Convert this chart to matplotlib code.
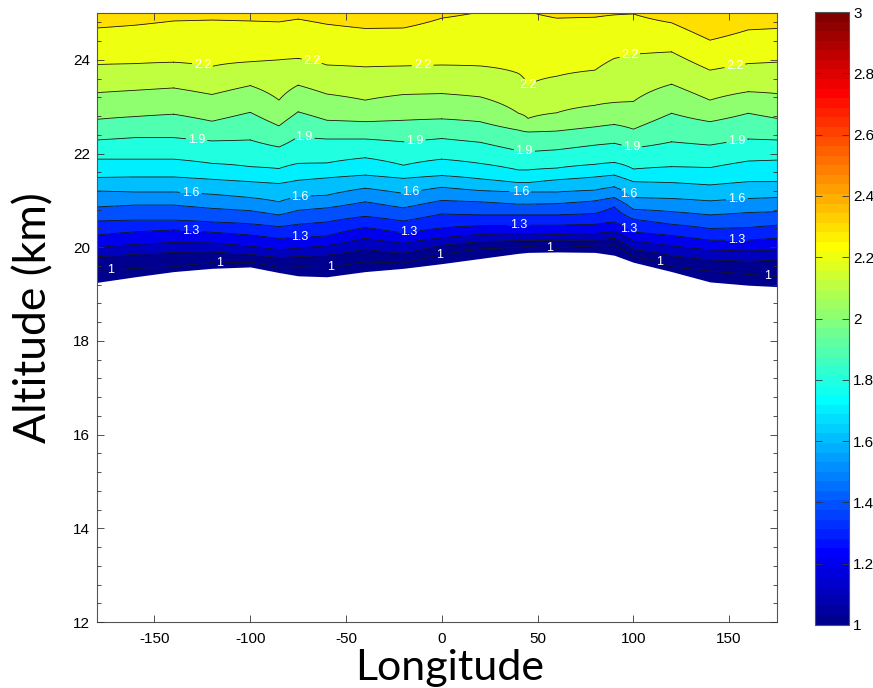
import numpy as np
import matplotlib
matplotlib.use("Agg")
import matplotlib.pyplot as plt
from matplotlib.colors import Normalize, ListedColormap
from matplotlib.cm import ScalarMappable
from matplotlib.ticker import MultipleLocator

plt.rcParams["axes.unicode_minus"] = False

# Longitudes of the sampled profiles (deg)
lon = [-180, -160, -140, -120, -100, -85, -75, -60, -40, -20, 0, 20, 40, 45,
       60, 80, 90, 100, 120, 140, 160, 175]

# Altitude (km) of each isoline along longitude
z10 = [19.48, 19.55, 19.58, 19.67, 19.68, 19.56, 19.58, 19.56, 19.69, 19.66, 19.84,
       19.96, 20.00, 20.01, 19.98, 20.03, 20.05, 19.80, 19.58, 19.49, 19.42, 19.37]
z11 = [19.80, 19.85, 19.89, 19.90, 19.85, 19.78, 19.80, 19.83, 19.96, 19.87, 20.04,
       20.12, 20.14, 20.14, 20.15, 20.15, 20.19, 19.95, 19.82, 19.73, 19.70, 19.73]
z12 = [19.99, 20.06, 20.10, 20.09, 20.02, 19.94, 19.98, 20.03, 20.19, 20.08, 20.20,
       20.27, 20.29, 20.29, 20.27, 20.29, 20.33, 20.13, 20.03, 19.94, 19.92, 19.94]
z13 = [20.26, 20.33, 20.37, 20.32, 20.26, 20.19, 20.21, 20.24, 20.42, 20.30, 20.41,
       20.46, 20.47, 20.47, 20.47, 20.49, 20.54, 20.32, 20.25, 20.15, 20.15, 20.19]
z14 = [20.56, 20.58, 20.58, 20.54, 20.50, 20.44, 20.49, 20.54, 20.66, 20.56, 20.71,
       20.69, 20.69, 20.69, 20.69, 20.72, 20.86, 20.60, 20.49, 20.40, 20.42, 20.47]
z15 = [20.86, 20.90, 20.90, 20.83, 20.78, 20.69, 20.79, 20.84, 20.97, 20.84, 21.00,
       20.97, 20.92, 20.92, 20.93, 20.99, 21.06, 20.81, 20.76, 20.69, 20.74, 20.76]
z16 = [21.20, 21.18, 21.18, 21.13, 21.06, 20.97, 21.08, 21.11, 21.26, 21.15, 21.28,
       21.21, 21.18, 21.18, 21.18, 21.22, 21.29, 21.06, 21.04, 20.99, 21.04, 21.06]
z17 = [21.49, 21.50, 21.50, 21.45, 21.40, 21.36, 21.43, 21.48, 21.54, 21.47, 21.53,
       21.46, 21.38, 21.38, 21.44, 21.50, 21.54, 21.40, 21.38, 21.33, 21.40, 21.40]
z18 = [21.88, 21.88, 21.88, 21.79, 21.72, 21.68, 21.79, 21.80, 21.91, 21.75, 21.88,
       21.79, 21.65, 21.65, 21.69, 21.77, 21.81, 21.67, 21.72, 21.70, 21.84, 21.86]
z19 = [22.29, 22.34, 22.34, 22.27, 22.29, 22.14, 22.36, 22.31, 22.31, 22.25, 22.32,
       22.24, 22.06, 22.04, 22.08, 22.18, 22.22, 22.12, 22.25, 22.18, 22.31, 22.29]
z20 = [22.73, 22.79, 22.84, 22.69, 22.88, 22.59, 22.89, 22.71, 22.68, 22.71, 22.74,
       22.68, 22.50, 22.46, 22.48, 22.57, 22.62, 22.52, 22.86, 22.68, 22.86, 22.75]
z21 = [23.30, 23.35, 23.40, 23.26, 23.45, 23.14, 23.46, 23.27, 23.14, 23.26, 23.28,
       23.21, 22.86, 22.75, 22.87, 23.03, 23.09, 23.11, 23.48, 23.14, 23.32, 23.28]
z22 = [23.90, 23.92, 23.95, 23.86, 23.96, 24.00, 24.03, 23.89, 23.85, 23.87, 23.89,
       23.87, 23.71, 23.46, 23.65, 23.78, 24.03, 24.12, 24.17, 23.78, 23.92, 23.95]
z23 = [24.68, 24.74, 24.83, 24.85, 24.83, 24.81, 24.87, 24.76, 24.67, 24.68, 24.89,
       25.02, 25.04, 25.03, 24.89, 24.91, 24.96, 24.98, 24.79, 24.42, 24.64, 24.67]
# Lowest altitude with valid data (km)
floor_km = [19.25, 19.37, 19.48, 19.55, 19.58, 19.46, 19.39, 19.37, 19.48, 19.55, 19.65,
            19.76, 19.87, 19.89, 19.90, 19.89, 19.83, 19.68, 19.48, 19.26, 19.19, 19.16]

line_levels = [1.0, 1.1, 1.2, 1.3, 1.4, 1.5, 1.6, 1.7, 1.8, 1.9, 2.0, 2.1, 2.2, 2.3]

# Longitudes where the isolines carry a value label
lab_lon_10 = [-173, -116, -58, -1, 56, 113, 170]
lab_lon_13 = [-131, -74, -17, 40, 97, 154]
lab_lon_16 = [-131, -74, -16, 41, 97, 154]
lab_lon_19 = [-128, -72, -14, 43, 99, 154]
lab_lon_22 = [-125, -68, -10, 45, 98, 153]

cb_ticks = [1.0, 1.2, 1.4, 1.6, 1.8, 2.0, 2.2, 2.4, 2.6, 2.8, 3.0]


def classic_jet(n=64):
    """The classic 64-step 'jet' table (red peaks at 5/8, blue at 3/8)."""
    m = int(np.ceil(n / 4))
    u = np.concatenate([np.arange(1, m + 1) / m, np.ones(m - 1), np.arange(m, 0, -1) / m])
    g = int(np.ceil(m / 2)) - (1 if n % 4 == 1 else 0) + np.arange(1, u.size + 1)
    r = g + m
    b = g - m
    rgb = np.zeros((n, 3))
    rgb[r[r <= n] - 1, 0] = u[r <= n]
    rgb[g[g <= n] - 1, 1] = u[g <= n]
    rgb[b[b >= 1] - 1, 2] = u[b >= 1]
    return ListedColormap(rgb)


# ---------------------------------------------------------------------------
lon_a = np.array(lon, dtype=float)
iso = np.vstack([z10, z11, z12, z13, z14, z15, z16, z17, z18, z19, z20, z21, z22, z23])
lev = np.array(line_levels)

# Gridded field: value vs altitude per profile, rebuilt from the isolines
zgrid = np.arange(18.8, 25.35, 0.005)
field = np.empty((zgrid.size, lon_a.size))
for j in range(lon_a.size):
    xp = iso[:, j]
    v = np.interp(zgrid, xp, lev)
    lo = zgrid < xp[0]
    hi = zgrid > xp[-1]
    v[lo] = lev[0] - (xp[0] - zgrid[lo]) * 0.1 / (xp[1] - xp[0])
    v[hi] = lev[-1] + (zgrid[hi] - xp[-1]) * 0.1 / (xp[-1] - xp[-2])
    field[:, j] = v

cmap = classic_jet(64)
norm = Normalize(vmin=1, vmax=3)
fill_levels = [0.0] + list(np.round(np.arange(1.0, 2.45, 0.1), 1)) + [3.0]
# each band takes the colour of its lower bounding level
fill_colors = [cmap(min(int(norm(max(l, 1.0)) * 64 + 1e-9), 63)) for l in fill_levels[:-1]]

fig = plt.figure(figsize=(8.73, 6.88), dpi=100)
ax = fig.add_axes([97 / 873, 1 - 622 / 688, 680 / 873, 609 / 688])

ax.contourf(lon_a, zgrid, field, levels=fill_levels, colors=fill_colors, zorder=1)
cs = ax.contour(lon_a, zgrid, field, levels=line_levels, colors="#151515",
                linewidths=0.6, zorder=2)
ax.fill_between(lon_a, 10, floor_km, color="white", zorder=1.5, lw=0)

label_sets = [(1.0, lab_lon_10), (1.3, lab_lon_13), (1.6, lab_lon_16),
              (1.9, lab_lon_19), (2.2, lab_lon_22)]
positions = []
for level, lons in label_sets:
    zl = iso[line_levels.index(level)]
    for lo_ in lons:
        positions.append((lo_, float(np.interp(lo_, lon_a, zl))))
texts = ax.clabel(cs, manual=positions, inline=True, inline_spacing=1,
                  fontsize=9, colors="white", fmt="%g")
for t in texts:
    t.set_rotation(0)
    t.set_zorder(5)
    t.set_family("Liberation Sans")

ax.set_xlim(-180, 175)
ax.set_ylim(12, 25)
ax.set_xticks([-150, -100, -50, 0, 50, 100, 150])
ax.set_yticks([12, 14, 16, 18, 20, 22, 24])
ax.yaxis.set_minor_locator(MultipleLocator(0.4))
ax.tick_params(which="both", direction="in", top=True, right=True, colors="#333333",
               width=0.6, labelsize=11, labelcolor="black")
ax.tick_params(which="major", length=5)
ax.tick_params(axis="x", which="major", pad=7)
ax.tick_params(axis="y", which="major", pad=5)
ax.tick_params(which="minor", length=3)
for lab in ax.get_xticklabels() + ax.get_yticklabels():
    lab.set_family("Liberation Sans")
for s in ax.spines.values():
    s.set_color("#555555")
    s.set_linewidth(0.8)
ax.set_axisbelow(False)

ax.set_xlabel("Longitude", fontsize=31, family="Lato")
ax.set_ylabel("Altitude (km)", fontsize=32, family="Lato")
ax.xaxis.set_label_coords(0.518, -0.044)
ax.yaxis.set_label_coords(-0.062, 0.5)

cax = fig.add_axes([815 / 873, 1 - 625 / 688, 34 / 873, 613 / 688])
sm = ScalarMappable(norm=norm, cmap=cmap)
cb = fig.colorbar(sm, cax=cax, ticks=cb_ticks)
cb.set_ticklabels([f"{t:g}" for t in cb_ticks])
cb.outline.set_edgecolor("#555555")
cb.outline.set_linewidth(0.8)
cax.tick_params(direction="in", left=True, right=True, length=5, width=0.6,
                colors="#333333", labelcolor="black", labelsize=11, pad=3)
for lab in cax.get_yticklabels():
    lab.set_family("Liberation Sans")

fig.savefig("out.png", dpi=100)
